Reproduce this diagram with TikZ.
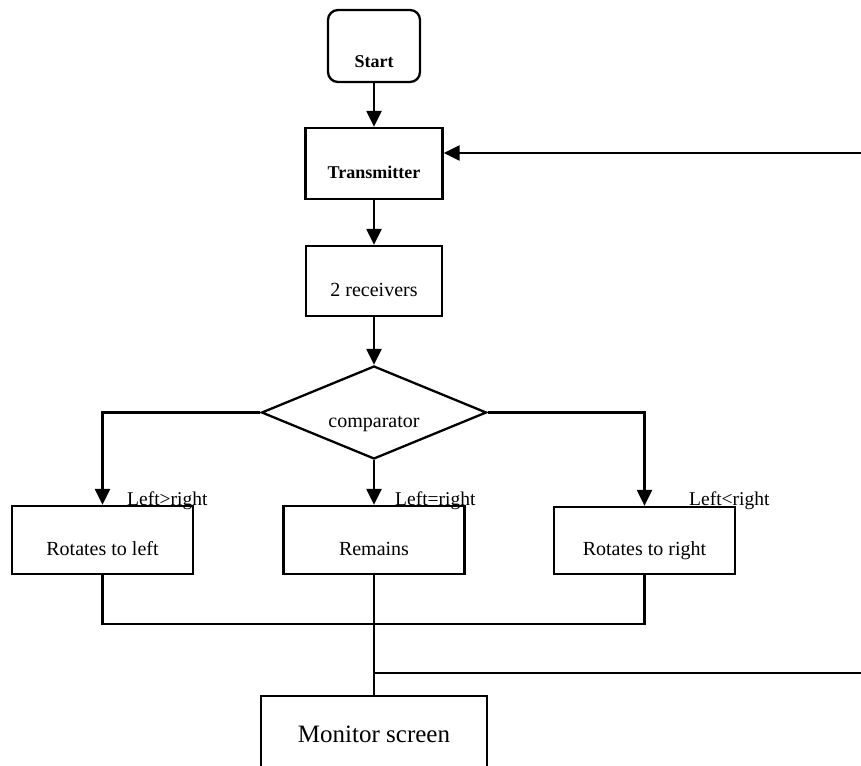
\documentclass[tikz,border=0pt]{standalone}
\usepackage{fontspec}
\setmainfont{Liberation Serif}
\usetikzlibrary{shapes.geometric,arrows.meta}
\begin{document}
\begin{tikzpicture}[x=1pt,y=-1pt,
  box/.style={draw, line width=2.3pt, rectangle, inner sep=0pt, text height=30pt, text depth=0pt, font=\fontsize{20}{24}\selectfont},
  boldbox/.style={box, font=\bfseries\fontsize{18}{22}\selectfont},
  arrow/.style={line width=2.3pt, -{Triangle[length=16pt,width=15pt]}},
  ln/.style={line width=2.3pt},
  lbl/.style={inner sep=0pt, anchor=base west, font=\fontsize{19.5}{23}\selectfont}]
\useasboundingbox (0,0) rectangle (861,765);
\fill[white] (0,0) rectangle (861,765);
\clip (0,0) rectangle (861,765);

\node[boldbox, rounded corners=10pt, minimum width=92pt, minimum height=72pt, text height=44pt] (start) at (374,46) {Start};
\node[boldbox, minimum width=137pt, minimum height=71pt] (tx) at (374,163.5) {Transmitter};
\node[box, minimum width=136pt, minimum height=70pt] (rx) at (374,281) {2 receivers};
\node[box, diamond, minimum width=225pt, minimum height=93pt, shape aspect=2.42] (cmp) at (374,412.5) {comparator};
\node[box, minimum width=181pt, minimum height=68pt] (left) at (102.5,540) {Rotates to left};
\node[box, minimum width=181pt, minimum height=68pt] (mid) at (374,540) {Remains};
\node[box, minimum width=181pt, minimum height=67pt] (right) at (644.5,540.5) {Rotates to right};
\node[box, minimum width=226pt, minimum height=88pt, text height=4pt, font=\fontsize{25}{30}\selectfont] (mon) at (374,740) {Monitor screen};

\node[lbl] (l1) at (127,505) {Left>right};
\node[lbl] (l2) at (395,505) {Left=right};
\node[lbl] (l3) at (689,505) {Left<right};

\draw[arrow] (start) -- (tx);
\draw[arrow] (tx) -- (rx);
\draw[arrow] (rx) -- (cmp);
\draw[arrow] (cmp.west) -| (left.north);
\draw[arrow] (cmp.south) -- (mid.north);
\draw[arrow] (cmp.east) -| (right.north);

\coordinate (busR) at (644.5,624);
\draw[ln] (left.south) |- (busR) -- (right.south);
\draw[ln] (mid.south) -- (mon.north);

\coordinate (fb) at (374,673);
\coordinate (fbR) at (866,673);
\coordinate (fbT) at (866,153);
\draw[arrow] (fb) -- (fbR) -- (fbT) -- ([yshift=10.5pt]tx.east);
\end{tikzpicture}
\end{document}
